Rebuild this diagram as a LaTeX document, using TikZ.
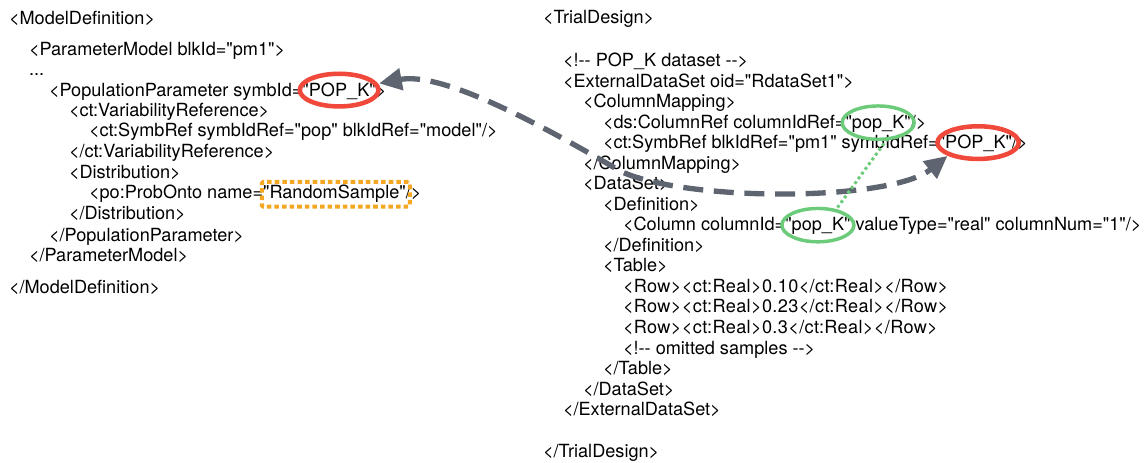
\documentclass[tikz,border=0pt]{standalone}
\usepackage{fontspec}
\setmainfont{TeX Gyre Heros}[Ligatures=TeXOff]
\usetikzlibrary{arrows.meta,shapes.geometric}
\definecolor{linkgray}{HTML}{5E6570}
\definecolor{hlred}{HTML}{F0483A}
\definecolor{hlgreen}{HTML}{6CCB7A}
\definecolor{hlorange}{HTML}{F5A623}
\tikzset{
  code/.style={anchor=base west, inner sep=0pt, outer sep=0pt,
    font=\fontsize{13.6}{15}\selectfont},
  rowcode/.style={code, font=\fontsize{13.6}{15}\selectfont\addfontfeatures{LetterSpace=2}},
  after/.style={code, at=(#1.base east)},
  redring/.style={ellipse, draw=hlred, line width=3.4pt, inner sep=0pt, outer sep=0pt,
    minimum width=59pt, minimum height=24.5pt},
  greenring/.style={ellipse, draw=hlgreen, line width=2.6pt, inner sep=0pt, outer sep=0pt,
    minimum width=54pt, minimum height=25pt},
  dotbox/.style={rectangle, draw=hlorange, line width=3pt, rounded corners=1pt,
    dash pattern=on 3.4pt off 2.3pt, inner sep=0pt, minimum height=18.5pt},
  reflink/.style={draw=linkgray, line width=4pt, dash pattern=on 15pt off 8pt,
    {Triangle[length=17pt,width=16pt]}-{Triangle[length=17pt,width=16pt]}},
  idlink/.style={draw=hlgreen, line width=2.3pt, dash pattern=on 2.2pt off 2.2pt},
}
\begin{document}
\begin{tikzpicture}[x=0.75pt,y=-0.75pt]
\useasboundingbox (0,0) rectangle (1146,463);

% model definition block
\node[code] (m1)  at (9,25)    {<ModelDefinition>};
\node[code] (m2)  at (29,56)   {<ParameterModel blkId="pm1">};
\node[code] (m3)  at (29,76)   {...};
\node[code] (m4)  at (49,96.5) {<PopulationParameter symbId=};
\node[after=m4] (m4k) {"POP\_K"};
\node[after=m4k] (m4e) {>};
\node[code] (m5)  at (69,117)  {<ct:VariabilityReference>};
\node[code] (m6)  at (89,137)  {<ct:SymbRef symbIdRef="pop" blkIdRef="model"/>};
\node[code] (m7)  at (69,158)  {</ct:VariabilityReference>};
\node[code] (m8)  at (69,178.5){<Distribution>};
\node[code] (m9)  at (89,199)  {<po:ProbOnto name=};
\node[after=m9] (m9k) {"RandomSample"};
\node[after=m9k] (m9e) {/>};
\node[code] (m10) at (69,219.5){</Distribution>};
\node[code] (m11) at (49,242)  {</PopulationParameter>};
\node[code] (m12) at (29,262)  {</ParameterModel>};
\node[code] (m13) at (9,294)   {</ModelDefinition>};

% trial design block
\node[code] (t1)  at (543,24)    {<TrialDesign>};
\node[code] (t2)  at (563,67)    {<!-- POP\_K dataset -->};
\node[code] (t3)  at (563,87.5)  {<ExternalDataSet oid="RdataSet1">};
\node[code] (t4)  at (583,108)   {<ColumnMapping>};
\node[code] (t5)  at (603,128.5) {<ds:ColumnRef columnIdRef=};
\node[after=t5] (t5k) {"pop\_K"};
\node[after=t5k] (t5e) {/>};
\node[code] (t6)  at (603,149)   {<ct:SymbRef blkIdRef="pm1" symbIdRef=};
\node[after=t6] (t6k) {"POP\_K"};
\node[after=t6k] (t6e) {/>};
\node[code] (t7)  at (583,169.5) {</ColumnMapping>};
\node[code] (t8)  at (583,190)   {<DataSet>};
\node[code] (t9)  at (603,210.5) {<Definition>};
\node[code] (t10) at (623,231)   {<Column columnId=};
\node[after=t10] (t10k) {"pop\_K"};
\node[after=t10k] (t10e) {\ valueType="real" columnNum="1"/>};
\node[code] (t11) at (603,251.5) {</Definition>};
\node[code] (t12) at (603,272)   {<Table>};
\node[rowcode] (t13) at (623,292.5) {<Row><ct:Real>0.10</ct:Real></Row>};
\node[rowcode] (t14) at (623,313)   {<Row><ct:Real>0.23</ct:Real></Row>};
\node[rowcode] (t15) at (623,333.5) {<Row><ct:Real>0.3</ct:Real></Row>};
\node[code] (t16) at (623,354)   {<!-- omitted samples -->};
\node[code] (t17) at (603,374.5) {</Table>};
\node[code] (t18) at (583,395)   {</DataSet>};
\node[code] (t19) at (563,415.5) {</ExternalDataSet>};
\node[code] (t20) at (543,457)   {</TrialDesign>};

% highlight marks
\node[redring] (redL) at ([yshift=4.8pt]m4k.base) {};
\node[redring, minimum width=61pt] (redR) at ([xshift=2pt,yshift=4.8pt]t6k.base) {};
\node[greenring] (grT) at ([yshift=4.4pt]t5k.base) {};
\node[greenring] (grB) at ([yshift=4.4pt]t10k.base) {};
\node[dotbox, minimum width=111pt] (rs) at ([xshift=1pt,yshift=3.5pt]m9k.base) {};

% links between the references
\coordinate (tipL) at ([xshift=30pt,yshift=5pt]redL.center);
\coordinate (tipR) at ([xshift=-23pt,yshift=-10pt]redR.center);
\coordinate (mid) at (620,171);
\draw[reflink] (tipL) .. controls (440,72) and (530,118) .. (mid)
  .. controls (685,202) and (890,202) .. (tipR);
\draw[idlink] (grT.-60) -- (grB.40);
\end{tikzpicture}
\end{document}
